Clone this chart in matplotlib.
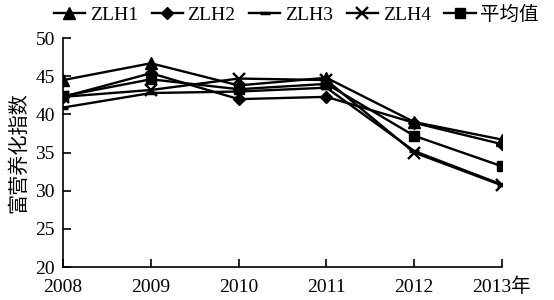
import matplotlib
matplotlib.use('Agg')
from matplotlib import pyplot as plt

plt.rcParams['font.family'] = ['Liberation Serif', 'Noto Sans CJK SC']

# Data
years = [2008, 2009, 2010, 2011, 2012, 2013]
year_labels = ['2008', '2009', '2010', '2011', '2012', '2013年']
zlh1 = [44.5, 46.7, 43.8, 44.8, 39.0, 36.7]
zlh2 = [42.3, 45.4, 42.0, 42.3, 38.9, 36.1]
zlh3 = [40.9, 42.8, 43.0, 43.5, 35.2, 30.8]
zlh4 = [42.3, 43.2, 44.7, 44.5, 35.0, 30.7]
mean = [42.4, 44.6, 43.3, 44.0, 37.2, 33.2]
series_names = ['ZLH1', 'ZLH2', 'ZLH3', 'ZLH4', '平均值']

fig = plt.figure(figsize=(5.54, 3.0), dpi=100)
ax = fig.add_axes([0.114, 0.11, 0.792, 0.763])

ax.plot(years, zlh1, color='black', lw=1.7, marker='^', ms=8.5, label=series_names[0])
ax.plot(years, zlh2, color='black', lw=1.7, marker='D', ms=6.5, label=series_names[1])
ax.plot(years, zlh3, color='black', lw=1.7, marker='_', ms=7, mew=2.5, label=series_names[2])
ax.plot(years, zlh4, color='black', lw=1.7, marker='x', ms=8.5, mew=1.7, label=series_names[3])
ax.plot(years, mean, color='black', lw=1.7, marker='s', ms=7, label=series_names[4])

ax.set_xlim(2008, 2013)
ax.set_ylim(20, 50)
ax.set_xticks(years)
ax.set_xticklabels(year_labels, va='baseline')
ax.set_yticks(range(20, 51, 5))
ax.tick_params(direction='in', length=6, width=1.2, labelsize=14)
ax.tick_params(axis='x', pad=18)
ax.tick_params(axis='y', pad=6)
for side in ['left', 'bottom']:
    ax.spines[side].set_linewidth(1.2)
ax.spines['top'].set_visible(False)
ax.spines['right'].set_visible(False)
ax.set_ylabel('富营养化指数', fontsize=14.5, labelpad=4)

fig.legend(loc='center', bbox_to_anchor=(0.535, 0.95), ncol=5, frameon=False,
           fontsize=14, handlelength=1.6, handletextpad=0.25, columnspacing=0.7,
           borderpad=0.1)

plt.savefig('out.png', dpi=100)
